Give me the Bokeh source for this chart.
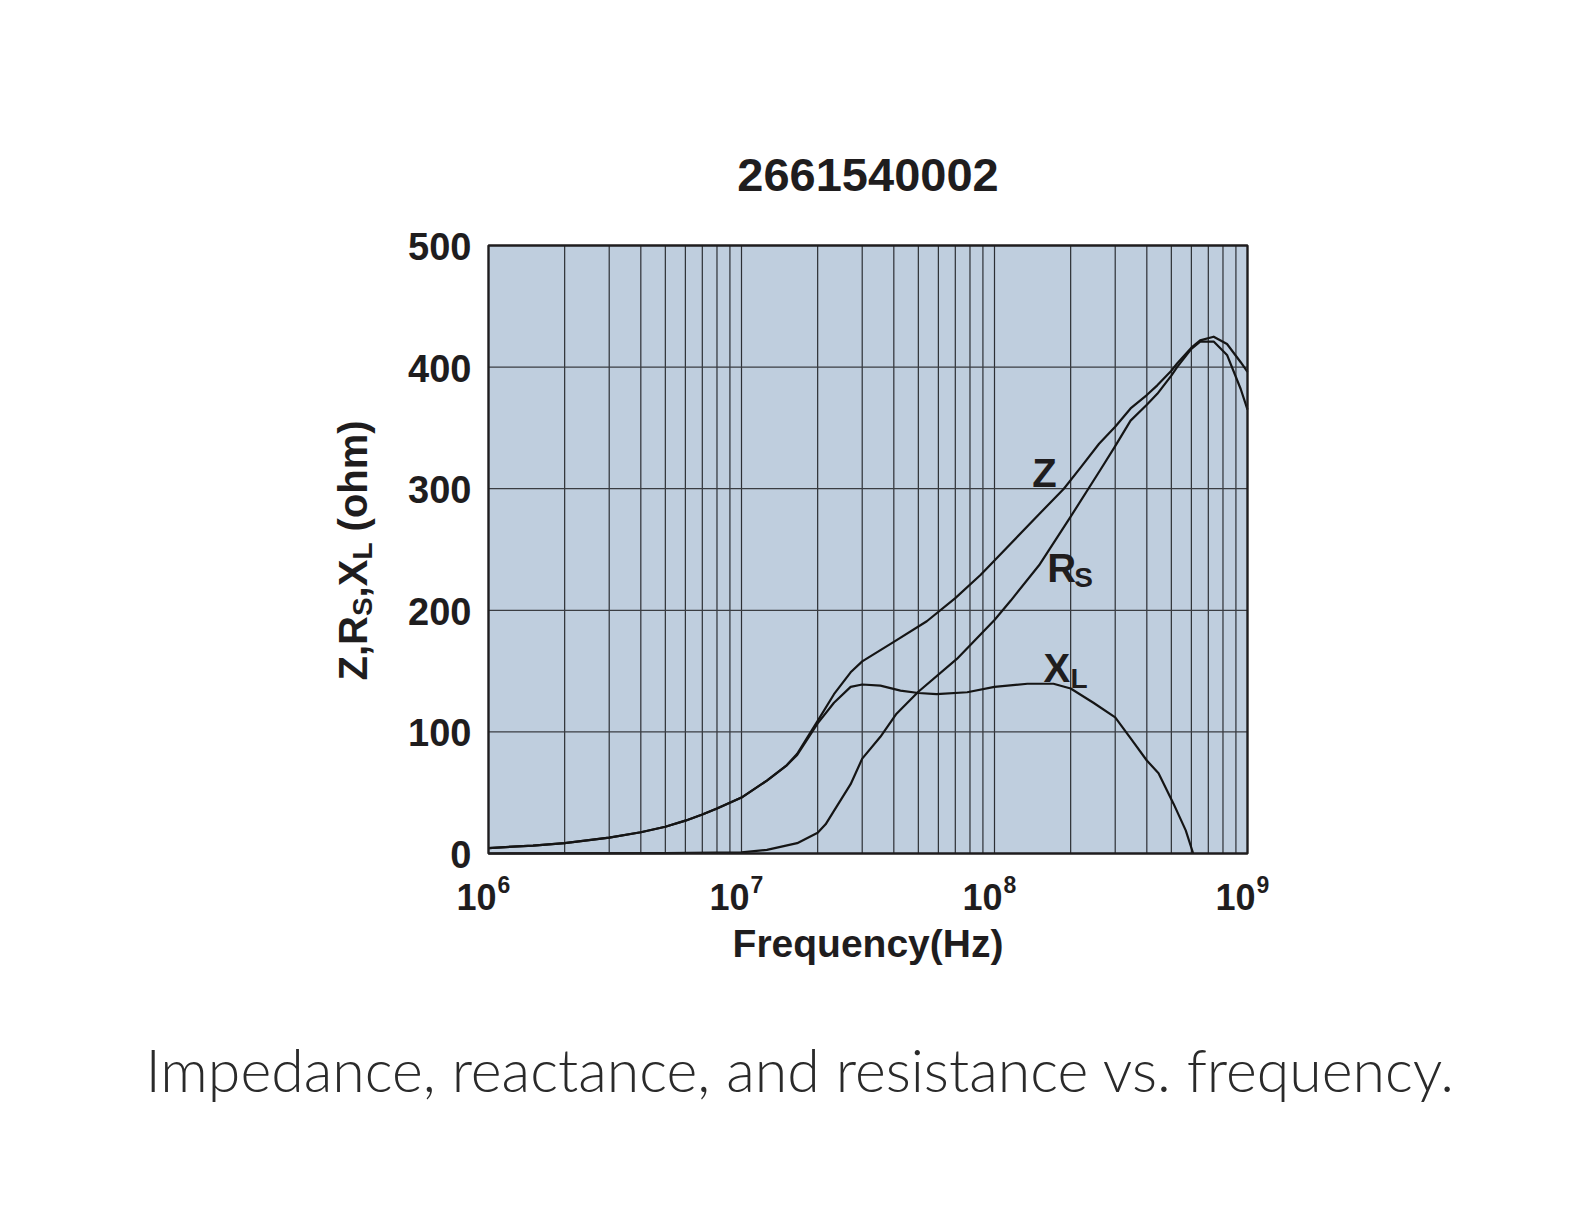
from math import pi, log10
from bokeh.plotting import figure
from bokeh.models import Label, Range1d
from bokeh.embed import file_html
from bokeh.resources import INLINE

# ---------------- data ----------------
title_text = "2661540002"
caption_text = "Impedance, reactance, and resistance vs. frequency."
x_axis_label = "Frequency(Hz)"

x_major_ticks = [1e6, 1e7, 1e8, 1e9]
x_tick_base = ["10", "10", "10", "10"]
x_tick_exponents = ["6", "7", "8", "9"]
x_minor_ticks = [k * 10 ** n for n in (6, 7, 8) for k in range(2, 10)]
y_ticks = [0, 100, 200, 300, 400, 500]
y_tick_labels = ["0", "100", "200", "300", "400", "500"]

z_freq = [1e6, 1.5e6, 2e6, 3e6, 4e6, 5e6, 6e6, 7e6, 8e6, 1e7, 1.26e7, 1.5e7, 1.66e7,
          2e7, 2.32e7, 2.7e7, 3e7, 4e7, 5.4e7, 7e7, 8.8e7, 1e8, 1.5e8, 1.88e8, 2.2e8,
          2.59e8, 3e8, 3.45e8, 4e8, 4.4e8, 5e8, 5.27e8, 6e8, 6.5e8, 7.35e8, 8.3e8,
          9.4e8, 1e9]
z_ohm = [4.5, 6.5, 8.5, 13, 17.5, 22, 27, 32, 37, 46, 60, 72, 82,
         109, 131, 149, 158, 174, 191, 210, 229, 241, 279, 300, 318,
         337, 351, 366, 377, 385, 397, 403, 416, 422, 425, 419,
         404, 396]

rs_freq = [1e6, 5e6, 1e7, 1.26e7, 1.66e7, 2e7, 2.15e7, 2.32e7, 2.7e7, 3e7, 3.54e7,
           4.1e7, 5e7, 7.1e7, 1e8, 1.16e8, 1.5e8, 2e8, 2.63e8, 3e8, 3.45e8, 4e8,
           4.4e8, 5e8, 5.27e8, 6e8, 6.5e8, 7.35e8, 8.3e8, 9.4e8, 1e9]
rs_ohm = [0, 0.3, 1, 3, 8.5, 17, 24, 35, 57, 78, 96,
          115, 133, 160, 192, 208, 237, 277, 316, 335, 356, 369,
          378, 393, 400, 415, 421, 421, 410, 382, 365]

xl_freq = [1e6, 1.5e6, 2e6, 3e6, 4e6, 5e6, 6e6, 7e6, 8e6, 1e7, 1.26e7, 1.5e7, 1.66e7,
           2e7, 2.32e7, 2.7e7, 3e7, 3.54e7, 4.25e7, 5e7, 5.9e7, 7.8e7, 1e8, 1.35e8,
           1.71e8, 2e8, 2.46e8, 3e8, 3.5e8, 4e8, 4.45e8, 5.1e8, 5.7e8, 6.1e8]
xl_ohm = [4.5, 6.5, 8.5, 13, 17.5, 22, 27, 32, 37, 46, 60, 72, 81,
          107, 124, 137, 139, 138, 134, 132, 131, 132.6, 137, 139.6,
          139.6, 135.7, 124, 112, 93, 76.5, 66, 41, 19, 0]

# curve labels: (main text, subscript, freq, ohm)
curve_labels = [("Z", "", 1.41e8, 301), ("R", "S", 1.615e8, 223), ("X", "L", 1.563e8, 140)]

# ---------------- layout (pixels) ----------------
W, H = 1568, 1200
PL, PR, PT, PB = 488, 1247, 245, 853          # plot area in canvas pixels
px_per_dec = (PR - PL) / 3.0
px_per_ohm = (PB - PT) / 500.0
x_lo = 10 ** (6 - PL / px_per_dec)
x_hi = 10 ** (9 + (W - PR) / px_per_dec)
y_lo = 0 - (H - PB) / px_per_ohm
y_hi = 500 + PT / px_per_ohm
K = 0.37   # baseline correction (fraction of font size)

INK = "#1f1d1e"
FONT = "Liberation Sans"
GRID = "#2c2f34"

p = figure(width=W, height=H, x_axis_type="log",
           x_range=Range1d(x_lo, x_hi), y_range=Range1d(y_lo, y_hi),
           x_axis_location=None, y_axis_location=None,
           output_backend="svg", toolbar_location=None, min_border=0)
p.grid.visible = False
p.outline_line_color = None
p.background_fill_color = "white"
p.border_fill_color = "white"

xmin, xmax = x_major_ticks[0], x_major_ticks[-1]
ymin, ymax = y_ticks[0], y_ticks[-1]

# plot area background
p.quad(left=[xmin], right=[xmax], bottom=[ymin], top=[ymax],
       fill_color="#BFCEDE", line_color=None)

# grid lines from the tick arrays
vx = x_minor_ticks + x_major_ticks[1:-1]
p.segment(x0=vx, y0=[ymin] * len(vx), x1=vx, y1=[ymax] * len(vx),
          line_color=GRID, line_width=1.2)
hy = y_ticks[1:-1]
p.segment(x0=[xmin] * len(hy), y0=hy, x1=[xmax] * len(hy), y1=hy,
          line_color="#3a3d42", line_width=1.2)

# curves
for fx, fy in ((z_freq, z_ohm), (rs_freq, rs_ohm), (xl_freq, xl_ohm)):
    p.line(fx, fy, line_color="#151515", line_width=2.2, line_join="round")

# frame
p.quad(left=[xmin], right=[xmax], bottom=[ymin], top=[ymax],
       fill_color=None, line_color=INK, line_width=2.4)


def lab(**kw):
    base = dict(text_font=FONT, text_color=INK, text_font_style="bold")
    base.update(kw)
    p.add_layout(Label(**base))


# y tick labels
for t, s in zip(y_ticks, y_tick_labels):
    lab(x=xmin, y=t, text=s, text_font_size="38px", text_align="right",
        text_baseline="middle", x_offset=-17, y_offset=-1)

# x tick labels (10 with superscript exponent)
for t, b, e in zip(x_major_ticks, x_tick_base, x_tick_exponents):
    lab(x=t, y=910 - K * 36, x_units="data", y_units="canvas", text=b,
        text_font_size="36px", text_align="right", text_baseline="alphabetic", x_offset=8)
    lab(x=t, y=893 - K * 23, x_units="data", y_units="canvas", text=e,
        text_font_size="23px", text_align="left", text_baseline="alphabetic", x_offset=9)

# curve labels
for main, sub, f, v in curve_labels:
    lab(x=f, y=v, text=main, text_font_size="40px", text_align="left",
        text_baseline="alphabetic", y_offset=K * 40)
    if sub:
        lab(x=f, y=v, text=sub, text_font_size="28px", text_align="left",
            text_baseline="alphabetic", x_offset=27, y_offset=-6 + K * 28)

xc = 10 ** ((log10(xmin) + log10(xmax)) / 2)

# x axis label
lab(x=xc, y=957 - K * 39, x_units="data", y_units="canvas", text=x_axis_label,
    text_font_size="39px", text_align="center", text_baseline="alphabetic")

# title
lab(x=xc, y=192 - K * 47, x_units="data", y_units="canvas", text=title_text,
    text_font_size="47px", text_align="center", text_baseline="alphabetic")

# y axis label pieces (rotated, with subscripts)
y_start = 680
pieces = [("Z,R", 40, 0.0, 0), ("S", 28, 64.4, 5), (",X", 40, 83.1, 0),
          ("L", 28, 120.9, 5), ("(ohm)", 40, 149.1, 0)]
for txt, fs, d, dx in pieces:
    lab(x=367 - K * fs + dx, y=y_start - d, x_units="canvas", y_units="canvas", text=txt,
        text_font_size=f"{fs}px", angle=pi / 2, text_align="left",
        text_baseline="alphabetic")

# caption
p.add_layout(Label(x=800, y=1091 - K * 59, x_units="canvas", y_units="canvas",
                   text=caption_text, text_font="Lato Light", text_font_size="59px",
                   text_color="#2a2a2a", text_align="center", text_baseline="alphabetic"))

open("out.html", "w").write(file_html(p, INLINE))
